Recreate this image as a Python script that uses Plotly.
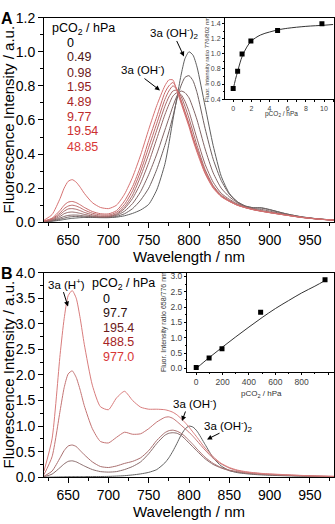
import plotly.graph_objects as go

# ---------------- data ----------------
W = [620, 630, 640, 645, 650, 655, 660, 665, 670, 680, 690, 700, 710, 720, 730, 740,
     750, 760, 770, 775, 780, 785, 790, 795, 800, 805, 810, 820, 830, 840, 850, 860,
     870, 880, 890, 900, 920, 940, 960, 980]

A_levels = ["0", "0.49", "0.98", "1.95", "4.89", "9.77", "19.54", "48.85"]
A_0 = [0.003, 0.006, 0.012, 0.016, 0.02, 0.023, 0.025, 0.027, 0.028, 0.028, 0.027, 0.027, 0.03, 0.038, 0.052, 0.072,
       0.105, 0.19, 0.34, 0.46, 0.60, 0.73, 0.86, 0.96, 1.00, 0.98, 0.91, 0.68, 0.45, 0.27, 0.17, 0.12,
       0.095, 0.085, 0.085, 0.075, 0.05, 0.032, 0.02, 0.013]
A_049 = [0.003, 0.008, 0.018, 0.024, 0.03, 0.033, 0.034, 0.033, 0.032, 0.03, 0.028, 0.028, 0.034, 0.05, 0.08, 0.13,
         0.20, 0.31, 0.45, 0.53, 0.62, 0.72, 0.80, 0.85, 0.86, 0.83, 0.76, 0.55, 0.37, 0.245, 0.165, 0.12,
         0.095, 0.085, 0.083, 0.073, 0.05, 0.031, 0.02, 0.013]
A_098 = [0.003, 0.01, 0.025, 0.034, 0.04, 0.042, 0.042, 0.04, 0.037, 0.033, 0.03, 0.031, 0.04, 0.065, 0.11, 0.18,
         0.28, 0.40, 0.54, 0.61, 0.68, 0.74, 0.77, 0.76, 0.73, 0.67, 0.60, 0.43, 0.29, 0.20, 0.15, 0.115,
         0.092, 0.08, 0.075, 0.066, 0.046, 0.03, 0.019, 0.012]
A_195 = [0.004, 0.013, 0.034, 0.05, 0.058, 0.06, 0.057, 0.052, 0.046, 0.037, 0.032, 0.033, 0.045, 0.08, 0.14, 0.23,
         0.35, 0.49, 0.63, 0.69, 0.74, 0.76, 0.75, 0.71, 0.65, 0.57, 0.49, 0.34, 0.235, 0.17, 0.135, 0.108,
         0.09, 0.077, 0.068, 0.06, 0.044, 0.029, 0.019, 0.012]
A_489 = [0.005, 0.016, 0.045, 0.065, 0.078, 0.08, 0.076, 0.068, 0.058, 0.044, 0.036, 0.036, 0.05, 0.09, 0.16, 0.27,
         0.40, 0.54, 0.68, 0.735, 0.77, 0.775, 0.74, 0.68, 0.61, 0.53, 0.45, 0.31, 0.215, 0.16, 0.128, 0.103,
         0.087, 0.075, 0.066, 0.058, 0.043, 0.029, 0.019, 0.012]
A_977 = [0.006, 0.02, 0.055, 0.08, 0.095, 0.1, 0.095, 0.085, 0.072, 0.053, 0.043, 0.042, 0.058, 0.105, 0.185, 0.30,
         0.44, 0.58, 0.72, 0.77, 0.80, 0.78, 0.72, 0.65, 0.58, 0.50, 0.43, 0.30, 0.21, 0.155, 0.125, 0.101,
         0.086, 0.074, 0.065, 0.057, 0.042, 0.028, 0.019, 0.012]
A_1954 = [0.007, 0.024, 0.07, 0.1, 0.118, 0.122, 0.115, 0.102, 0.087, 0.063, 0.05, 0.049, 0.068, 0.125, 0.21, 0.33,
          0.48, 0.62, 0.76, 0.80, 0.82, 0.78, 0.71, 0.64, 0.57, 0.49, 0.42, 0.29, 0.205, 0.152, 0.123, 0.1,
          0.085, 0.073, 0.064, 0.056, 0.042, 0.028, 0.018, 0.012]
A_4885 = [0.012, 0.045, 0.14, 0.2, 0.24, 0.25, 0.235, 0.205, 0.17, 0.115, 0.087, 0.08, 0.1, 0.165, 0.265, 0.395,
          0.545, 0.685, 0.80, 0.835, 0.835, 0.77, 0.70, 0.63, 0.56, 0.48, 0.41, 0.285, 0.2, 0.15, 0.122, 0.1,
          0.086, 0.074, 0.065, 0.057, 0.042, 0.029, 0.019, 0.013]
A_curves = [A_0, A_049, A_098, A_195, A_489, A_977, A_1954, A_4885]

B_levels = ["0", "97.7", "195.4", "488.5", "977.0"]
B_0 = [0.0, 0.003, 0.007, 0.009, 0.011, 0.012, 0.013, 0.013, 0.013, 0.013, 0.014, 0.016, 0.022, 0.03, 0.045, 0.065,
       0.095, 0.15, 0.28, 0.38, 0.51, 0.66, 0.82, 0.94, 1.0, 0.98, 0.90, 0.64, 0.38, 0.22, 0.13, 0.09,
       0.07, 0.055, 0.045, 0.038, 0.028, 0.02, 0.014, 0.01]
B_977 = [0.01, 0.06, 0.19, 0.26, 0.31, 0.32, 0.30, 0.26, 0.22, 0.15, 0.11, 0.10, 0.11, 0.15, 0.21, 0.30,
         0.46, 0.66, 0.82, 0.86, 0.87, 0.86, 0.82, 0.75, 0.67, 0.59, 0.51, 0.36, 0.25, 0.18, 0.13, 0.10,
         0.08, 0.065, 0.055, 0.048, 0.036, 0.026, 0.018, 0.012]
B_1954 = [0.02, 0.12, 0.38, 0.52, 0.61, 0.63, 0.60, 0.52, 0.44, 0.30, 0.21, 0.19, 0.22, 0.27, 0.31, 0.38,
          0.52, 0.72, 0.87, 0.91, 0.92, 0.90, 0.86, 0.80, 0.72, 0.64, 0.55, 0.39, 0.27, 0.19, 0.14, 0.11,
          0.085, 0.07, 0.06, 0.05, 0.038, 0.027, 0.019, 0.013]
B_4885 = [0.05, 0.4, 1.3, 1.75, 2.02, 2.08, 1.95, 1.7, 1.4, 0.95, 0.70, 0.67, 0.78, 0.88, 0.84, 0.85,
          0.95, 1.08, 1.17, 1.18, 1.15, 1.09, 1.02, 0.95, 0.88, 0.80, 0.71, 0.53, 0.37, 0.26, 0.18, 0.13,
          0.10, 0.085, 0.07, 0.06, 0.045, 0.032, 0.022, 0.015]
B_9770 = [0.12, 0.75, 2.4, 3.1, 3.55, 3.65, 3.5, 3.1, 2.6, 1.8, 1.38, 1.32, 1.55, 1.68, 1.5, 1.37,
          1.33, 1.33, 1.32, 1.30, 1.27, 1.22, 1.15, 1.07, 0.98, 0.88, 0.78, 0.57, 0.40, 0.27, 0.19, 0.14,
          0.11, 0.09, 0.075, 0.065, 0.05, 0.035, 0.025, 0.018]
B_curves = [B_0, B_977, B_1954, B_4885, B_9770]

insetA_x = [0, 0.49, 0.98, 1.95, 4.89, 9.77]
insetA_y = [0.54, 0.77, 1.0, 1.17, 1.31, 1.40]
insetA_fit_x = [0, 0.25, 0.5, 0.75, 1.0, 1.5, 2.0, 3.0, 4.0, 5.0, 6.0, 8.0, 10.0, 11.0]
insetA_fit_y = [0.53, 0.66, 0.77, 0.88, 0.97, 1.09, 1.17, 1.25, 1.29, 1.32, 1.34, 1.365, 1.38, 1.39]

insetB_x = [0, 97.7, 195.4, 488.5, 977.0]
insetB_y = [0.03, 0.34, 0.64, 1.83, 2.89]
insetB_fit_x = [0, 100, 200, 300, 400, 500, 600, 700, 800, 900, 980]
insetB_fit_y = [0.0, 0.36, 0.70, 1.03, 1.35, 1.66, 1.95, 2.21, 2.46, 2.68, 2.87]

# ---------------- styling ----------------
FONT = "Arial, 'Liberation Sans', sans-serif"
WPX, HPX = 335, 524
def px(x): return x / WPX
def py(y): return 1 - y / HPX

A_line_colors = ['#5e5e5e', '#6e6060', '#806464', '#946868', '#a86868', '#ba6868', '#c86868', '#d67272']
A_text_colors = ['#000000', '#4e1616', '#6c1a1a', '#912020', '#a82626', '#bd2b2b', '#cc2f2f', '#d93838']
B_line_colors = ['#626262', '#8a6c6c', '#a86e6e', '#c47474', '#d87c7c']
B_text_colors = ['#000000', '#2a0c0c', '#6c1a1a', '#a52424', '#d83636']

fig = go.Figure()
for ys, col in zip(A_curves, A_line_colors):
    fig.add_trace(go.Scatter(x=W, y=ys, mode='lines', xaxis='x', yaxis='y',
                             line=dict(color=col, width=1, shape='spline', smoothing=0.6),
                             showlegend=False, hoverinfo='skip'))
for ys, col in zip(B_curves, B_line_colors):
    fig.add_trace(go.Scatter(x=W, y=ys, mode='lines', xaxis='x2', yaxis='y2',
                             line=dict(color=col, width=1, shape='spline', smoothing=0.6),
                             showlegend=False, hoverinfo='skip'))
# insets
fig.add_trace(go.Scatter(x=insetA_fit_x, y=insetA_fit_y, mode='lines', xaxis='x3', yaxis='y3',
                         line=dict(color='#333333', width=1, shape='spline'), showlegend=False, hoverinfo='skip'))
fig.add_trace(go.Scatter(x=insetA_x, y=insetA_y, mode='markers', xaxis='x3', yaxis='y3',
                         marker=dict(symbol='square', size=5, color='black'), showlegend=False, hoverinfo='skip'))
fig.add_trace(go.Scatter(x=insetB_fit_x, y=insetB_fit_y, mode='lines', xaxis='x4', yaxis='y4',
                         line=dict(color='#333333', width=1, shape='spline'), showlegend=False, hoverinfo='skip'))
fig.add_trace(go.Scatter(x=insetB_x, y=insetB_y, mode='markers', xaxis='x4', yaxis='y4',
                         marker=dict(symbol='square', size=5, color='black'), showlegend=False, hoverinfo='skip'))

def axis(size, ticklen, minor_dtick, minor_len, **kw):
    d = dict(showline=True, linecolor='black', linewidth=1, mirror=True, ticks='outside',
             ticklen=ticklen, tickwidth=1, tickcolor='black', showgrid=False, zeroline=False,
             tickfont=dict(size=size, color='black' if size > 10 else '#444444', family=FONT),
             minor=dict(dtick=minor_dtick, ticklen=minor_len, ticks='outside', tickcolor='black', showgrid=False))
    d.update(kw)
    return d

XTITLE = dict(text="Wavelength / nm", font=dict(size=15, color='black', family=FONT), standoff=0)

fig.update_layout(
    width=WPX, height=HPX, margin=dict(l=0, r=0, t=0, b=0),
    paper_bgcolor='white', plot_bgcolor='rgba(0,0,0,0)',
    font=dict(family=FONT, color='black'),
    xaxis=axis(14, 5, 25, 3, domain=[px(44), px(334)], range=[620, 980], dtick=50, tick0=650, anchor='y',
               title=XTITLE),
    yaxis=axis(14, 5, 0.1, 3, domain=[py(221), py(10)], range=[0, 1.2], dtick=0.2, tickformat='.1f', anchor='x'),
    xaxis2=axis(14, 5, 25, 3, domain=[px(44), px(334)], range=[620, 980], dtick=50, tick0=650, anchor='y2',
                title=XTITLE),
    yaxis2=axis(14, 5, 0.25, 3, domain=[py(484), py(273)], range=[0, 4.0], dtick=0.5, tickformat='.1f', anchor='x2'),
    xaxis3=axis(7, 2, 1, 1.5, domain=[px(225), px(334)], range=[-0.9, 11.1], dtick=2, tick0=0, anchor='y3'),
    yaxis3=axis(7, 2, 0.1, 1.5, domain=[py(94), py(10)], range=[0.4, 1.48], dtick=0.2, tick0=0.4,
                tickformat='.1f', anchor='x3'),
    xaxis4=axis(8.5, 2, 100, 1.5, domain=[px(187), px(334)], range=[-70, 1045], dtick=200, tick0=0, anchor='y4'),
    yaxis4=axis(8.5, 2, 0.25, 1.5, domain=[py(375), py(273)], range=[-0.1, 3.12], dtick=0.5, tick0=0,
                tickformat='.1f', anchor='x4'),
)

ann = []
def text(x, y, s, size=12, color='black', xanchor='left', angle=0, bold=False):
    ann.append(dict(x=px(x), y=py(y), xref='paper', yref='paper', text=(f"<b>{s}</b>" if bold else s),
                    showarrow=False, xanchor=xanchor, yanchor='middle', textangle=angle,
                    font=dict(size=size, color=color, family=FONT)))

def arrow(x0, y0, x1, y1):
    ann.append(dict(x=px(x1), y=py(y1), xref='paper', yref='paper', text='', showarrow=True,
                    ax=x0 - x1, ay=y0 - y1, arrowhead=2, arrowsize=1, arrowwidth=1, arrowcolor='black'))

# panel letters
text(7, 11, "A", size=16, xanchor='center', bold=True)
text(7, 274, "B", size=16, xanchor='center', bold=True)
# y-axis titles
text(8, 115, "Fluorescence Intensity / a.u.", size=15, xanchor='center', angle=-90)
text(8, 378, "Fluorescence Intensity / a.u.", size=15, xanchor='center', angle=-90)

# legend A
text(50, 22, "pCO<sub>2</sub> / hPa", size=12.5)
for lab, col, yy in zip(A_levels, A_text_colors, [36, 51, 67, 82, 97, 112, 127, 143]):
    text(65, yy, lab, size=12.5, color=col)
# legend B
text(46, 285, "3a (H<sup>+</sup>)", size=11.5)
text(90, 285, "pCO<sub>2</sub> / hPa", size=12.5)
for lab, col, yy in zip(B_levels, B_text_colors, [300, 315, 330, 345, 360]):
    text(101, yy, lab, size=12.5, color=col)

# peak labels
text(175, 26, "3a (OH<sup>-</sup>)<sub>2</sub>", size=11.5, xanchor='center')
arrow(176, 33, 184, 50)
text(143, 63, "3a (OH<sup>-</sup>)", size=11.5, xanchor='center')
arrow(143, 72, 160, 85)
arrow(63, 292, 68, 308)
text(195, 407, "3a (OH<sup>-</sup>)", size=11.5, xanchor='center')
arrow(186, 415, 182, 426)
text(229, 431, "3a (OH<sup>-</sup>)<sub>2</sub>", size=11.5, xanchor='center')
arrow(221, 438, 207, 445)

# inset titles
text(281, 109, "pCO<sub>2</sub> / hPa", size=6.5, color='#333333', xanchor='center')
text(207, 53, "Fluor. Intensity ratio 776/802 nm", size=6, color='#333333', xanchor='center', angle=-90)
text(261, 398, "pCO<sub>2</sub> / hPa", size=8, color='#333333', xanchor='center')
text(164, 324, "Fluor. Intensity ratio 658/776 nm", size=7, color='#333333', xanchor='center', angle=-90)

fig.update_layout(annotations=ann)
fig.write_html("out.html", config={'displayModeBar': False},
               post_script="document.body.style.margin='0px';document.body.style.padding='0px';")
